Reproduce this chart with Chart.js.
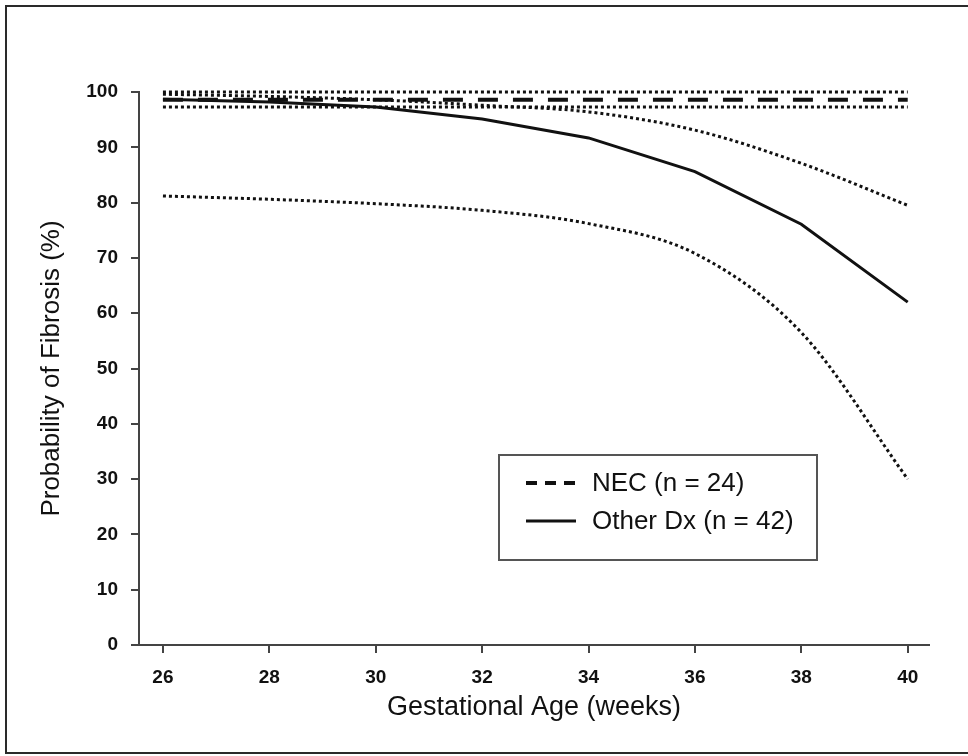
<!DOCTYPE html>
<html>
<head>
<meta charset="utf-8">
<script src="https://cdn.jsdelivr.net/npm/chart.js@4.4.1/dist/chart.umd.min.js"></script>
<style>
  html, body { margin: 0; padding: 0; background: #fff; overflow: hidden; }
  #wrap { position: relative; width: 968px; height: 756px; }
  #frame { position: absolute; left: 5px; top: 5px; width: 1000px; height: 745px; border: 2px solid #2a2a2a; }
  canvas { position: absolute; left: 0; top: 0; }
</style>
</head>
<body>
<div id="wrap">
  <div id="frame"></div>
  <canvas id="fibrosisChart" width="968" height="756"></canvas>
</div>
<script>
// data
const weeks = [26, 28, 30, 32, 34, 36, 38, 40];
const weekTicks = [26, 28, 30, 32, 34, 36, 38, 40];
const pctTicks = [0, 10, 20, 30, 40, 50, 60, 70, 80, 90, 100];

const necEst   = [98.6, 98.6, 98.6, 98.6, 98.6, 98.6, 98.6, 98.6];
const necUpper = [100, 100, 100, 100, 100, 100, 100, 100];
const necLower = [97.3, 97.3, 97.3, 97.3, 97.3, 97.3, 97.3, 97.3];

const otherEst   = [98.7, 98.2, 97.3, 95.1, 91.7, 85.6, 76.1, 62.0];
const otherUpper = [99.6, 99.2, 98.6, 97.6, 96.4, 93.1, 87.1, 79.5];
const otherLower = [81.2, 80.6, 79.8, 78.6, 76.2, 70.8, 56.5, 30.0];

const seriesNames = ['NEC (n = 24)', 'Other Dx (n = 42)'];

const ink = '#111';
const axisColor = '#444';
const pts = vals => weeks.map((w, i) => ({ x: w, y: vals[i] }));

const dotted = vals => ({
  data: pts(vals),
  borderColor: ink,
  borderWidth: 3,
  borderDash: [3, 3],
  cubicInterpolationMode: 'monotone',
  inLegend: false
});

// Legend drawn inside the plot, boxed
const legendBox = {
  id: 'legendBox',
  afterDraw(chart) {
    const ctx = chart.ctx;
    const items = chart.data.datasets.filter(d => d.inLegend);
    ctx.save();
    ctx.strokeStyle = '#555';
    ctx.lineWidth = 2;
    ctx.strokeRect(499, 455, 318, 105);
    ctx.font = '26px "Liberation Sans", Arial, sans-serif';
    ctx.fillStyle = ink;
    ctx.textBaseline = 'middle';
    items.forEach((d, i) => {
      const y = 483 + i * 38;
      ctx.beginPath();
      ctx.strokeStyle = ink;
      ctx.lineWidth = d.borderWidth;
      ctx.setLineDash(d.legendDash || []);
      ctx.moveTo(526, y);
      ctx.lineTo(576, y);
      ctx.stroke();
      ctx.setLineDash([]);
      ctx.fillText(d.label, 592, y + 1);
    });
    ctx.restore();
  }
};

const tickFont = { family: '"Liberation Sans", Arial, sans-serif', size: 19, weight: 'bold' };
const titleFont = { family: '"Liberation Sans", Arial, sans-serif', size: 26 };

const ctx = document.getElementById('fibrosisChart').getContext('2d');
new Chart(ctx, {
  type: 'line',
  data: {
    datasets: [
      dotted(necUpper),
      dotted(necLower),
      dotted(otherUpper),
      dotted(otherLower),
      {
        label: seriesNames[0],
        data: pts(necEst),
        borderColor: ink,
        borderWidth: 4,
        borderDash: [20, 15],
        legendDash: [11, 8],
        inLegend: true
      },
      {
        label: seriesNames[1],
        data: pts(otherEst),
        borderColor: ink,
        borderWidth: 3,
        tension: 0,
        inLegend: true
      }
    ]
  },
  options: {
    responsive: false,
    animation: false,
    clip: false,
    layout: { padding: { left: 8, top: 92, right: 39, bottom: 11 } },
    elements: { point: { radius: 0 } },
    plugins: {
      legend: { display: false },
      tooltip: { enabled: false }
    },
    scales: {
      x: {
        type: 'linear',
        min: 25.55,
        max: 40.4,
        afterBuildTicks: s => { s.ticks = weekTicks.map(v => ({ value: v })); },
        afterFit: s => { s.height = 100; },
        grid: { drawOnChartArea: false, tickLength: 8, color: axisColor, lineWidth: 2 },
        border: { color: axisColor, width: 2 },
        ticks: { font: tickFont, color: ink, padding: 13, maxRotation: 0 },
        title: {
          display: true,
          text: 'Gestational Age (weeks)',
          font: { ...titleFont, size: 27 },
          color: ink,
          padding: { top: 0, bottom: 21 }
        }
      },
      y: {
        min: 0,
        max: 100,
        afterBuildTicks: s => { s.ticks = pctTicks.map(v => ({ value: v })); },
        afterFit: s => { s.width = 131; },
        grid: { drawOnChartArea: false, tickLength: 8, color: axisColor, lineWidth: 2 },
        border: { color: axisColor, width: 2 },
        ticks: { font: tickFont, color: ink, padding: 13 },
        title: {
          display: true,
          text: 'Probability of Fibrosis (%)',
          font: titleFont,
          color: ink,
          padding: { top: 28, bottom: 0 }
        }
      }
    }
  },
  plugins: [legendBox]
});
</script>
</body>
</html>
